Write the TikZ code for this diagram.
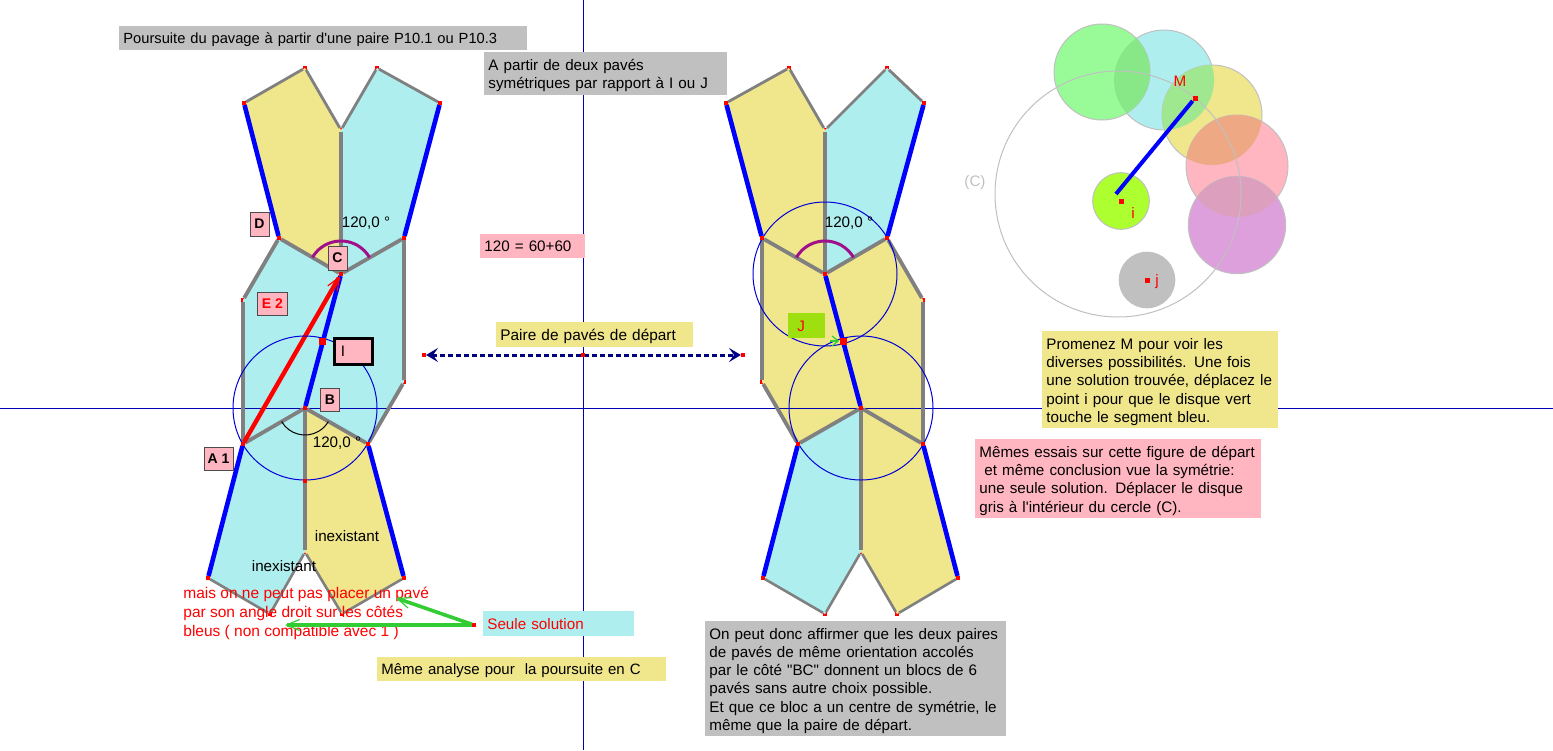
\documentclass[tikz,border=0pt]{standalone}
\usepackage{fontspec}
\setmainfont[Ligatures=TeXOff]{Liberation Sans}
\usetikzlibrary{positioning, shapes, calc, arrows.meta}

\definecolor{paveCyan}{RGB}{175,238,238}
\definecolor{paveKhaki}{RGB}{240,230,140}
\definecolor{panelGray}{RGB}{192,192,192}
\definecolor{panelPink}{RGB}{255,182,193}
\definecolor{paleGreen}{RGB}{152,251,152}
\definecolor{lineGray}{RGB}{128,128,128}
\definecolor{discPlum}{RGB}{221,160,221}
\definecolor{limeJ}{RGB}{158,224,15}
\definecolor{limeDisc}{RGB}{173,255,47}
\definecolor{arrowGreen}{RGB}{50,205,50}
\definecolor{arcPurple}{RGB}{160,16,138}

\begin{document}
\begin{tikzpicture}[x=0.5pt, y=-0.5pt,
                    font=\fontsize{7.6}{9.1}\selectfont,
                    pt/.style={rectangle, fill=red, inner sep=0pt, minimum size=1.6pt},
                    bigpt/.style={rectangle, fill=red, inner sep=0pt, minimum size=3.5pt},
                    panel/.style={anchor=north west, inner xsep=2pt, inner ysep=0pt, align=left},
                    lift/.style={execute at begin node={\rule{0pt}{#1}}},
                    tag/.style={rectangle, draw=black!70, line width=0.5pt, fill=panelPink, inner sep=0pt, font=\fontsize{7}{8}\selectfont\bfseries},
                    side/.style={draw=blue, line width=2.3pt},
                    rim/.style={draw=lineGray, line width=2.2pt},
                    seam/.style={draw=lineGray, line width=1.6pt},
                    disc/.style={draw=panelGray, line width=0.5pt},
                    ring/.style={draw=blue!85!black, line width=0.5pt},
                    axis/.style={draw=blue!70!black, line width=0.5pt},
                    barb/.style={-{Straight Barb[length=6.5pt, width=5.5pt, line width=0.6pt]}}]

    \useasboundingbox (0,0) rectangle (1553,750);

    % Nodes, left figure
    \node[pt] (t1) at (244,103) {};
    \node[pt] (t2) at (305,68) {};
    \node[pt] (t3) at (341,130) {};
    \node[pt] (t4) at (377,68) {};
    \node[pt] (t5) at (440,103) {};
    \node[pt] (d) at (279,238) {};
    \node[pt] (c) at (341,274) {};
    \node[pt] (r1) at (404,238) {};
    \node[pt] (r2) at (404,382) {};
    \node[pt] (l1) at (243,300) {};
    \node[pt] (a) at (243,444) {};
    \node[pt] (b) at (305,408) {};
    \node[pt] (e) at (368,444) {};
    \node[pt] (h) at (305,481) {};
    \node[pt] (n) at (305,552) {};
    \node[pt] (s1) at (208,578) {};
    \node[pt] (s2) at (270,614) {};
    \node[pt] (s3) at (342,614) {};
    \node[pt] (s4) at (404,578) {};

    % Nodes, right figure
    \node[pt] (u1) at (726,103) {};
    \node[pt] (u2) at (789,68) {};
    \node[pt] (u3) at (825,130) {};
    \node[pt] (u4) at (887,68) {};
    \node[pt] (u5) at (924,103) {};
    \node[pt] (v1) at (762,238) {};
    \node[pt] (v2) at (825,274) {};
    \node[pt] (v3) at (887,238) {};
    \node[pt] (v4) at (923,300) {};
    \node[pt] (w1) at (762,382) {};
    \node[pt] (w2) at (798,444) {};
    \node[pt] (w3) at (861,408) {};
    \node[pt] (w4) at (923,444) {};
    \node[pt] (z1) at (763,578) {};
    \node[pt] (z2) at (825,614) {};
    \node[pt] (z3) at (861,552) {};
    \node[pt] (z4) at (897,614) {};
    \node[pt] (z5) at (958,578) {};

    % Fills
    \fill[paveKhaki] (t1.center) -- (t2.center) -- (t3.center) -- (c.center) -- (d.center) -- cycle;
    \fill[paveCyan] (t5.center) -- (t4.center) -- (t3.center) -- (c.center) -- (r1.center) -- cycle;
    \fill[paveCyan] (a.center) -- (l1.center) -- (d.center) -- (c.center) -- (b.center) -- cycle;
    \fill[paveCyan] (c.center) -- (r1.center) -- (r2.center) -- (e.center) -- (b.center) -- cycle;
    \fill[paveCyan] (a.center) -- (b.center) -- (n.center) -- (s2.center) -- (s1.center) -- cycle;
    \fill[paveKhaki] (b.center) -- (e.center) -- (s4.center) -- (s3.center) -- (n.center) -- cycle;
    \fill[paveKhaki] (u1.center) -- (u2.center) -- (u3.center) -- (v2.center) -- (v1.center) -- cycle;
    \fill[paveCyan] (u5.center) -- (u4.center) -- (u3.center) -- (v2.center) -- (v3.center) -- cycle;
    \fill[paveKhaki] (v1.center) -- (v2.center) -- (w3.center) -- (w2.center) -- (w1.center) -- cycle;
    \fill[paveKhaki] (v2.center) -- (v3.center) -- (v4.center) -- (w4.center) -- (w3.center) -- cycle;
    \fill[paveCyan] (w2.center) -- (w3.center) -- (z3.center) -- (z2.center) -- (z1.center) -- cycle;
    \fill[paveKhaki] (w3.center) -- (w4.center) -- (z5.center) -- (z4.center) -- (z3.center) -- cycle;

    % Axes
    \coordinate (west) at (0,408);
    \coordinate (east) at (1553,408);
    \coordinate (north) at (583,0);
    \coordinate (south) at (583,750);
    \draw[axis] (west) -- (east);
    \draw[axis] (north) -- (south);

    % Paths, left figure
    \draw[seam, line width=1.4pt] (t1) -- (t2) -- (t3) -- (t4) -- (t5);
    \draw[seam] (t3) -- (c);
    \draw[seam, line width=1.9pt] (d) -- (c) -- (r1);
    \draw[rim] (a) -- (l1);
    \draw[seam, line width=1.9pt] (l1) -- (d);
    \draw[rim] (r1) -- (r2);
    \draw[seam, line width=1.9pt] (r2) -- (e);
    \draw[seam, line width=1.9pt] (a) -- (b) -- (e);
    \draw[seam] (b) -- (n);
    \draw[seam, line width=1.3pt] (s1) -- (s2) -- (n) -- (s3) -- (s4);
    \draw[side] (t1) -- (d);
    \draw[side] (t5) -- (r1);
    \draw[side] (a) -- (s1);
    \draw[side] (e) -- (s4);
    \draw[side] (b) -- (c);
    \draw[draw=red, line width=2.2pt, barb] (a) -- (c);

    % Paths, right figure
    \draw[seam, line width=1.4pt] (u1) -- (u2) -- (u3) -- (u4) -- (u5);
    \draw[seam] (u3) -- (v2);
    \draw[seam, line width=1.9pt] (v1) -- (v2) -- (v3);
    \draw[rim] (v1) -- (w1);
    \draw[seam, line width=1.9pt] (w1) -- (w2);
    \draw[seam, line width=1.9pt] (v3) -- (v4);
    \draw[rim] (v4) -- (w4);
    \draw[seam, line width=1.9pt] (w2) -- (w3) -- (w4);
    \draw[seam] (w3) -- (z3);
    \draw[seam, line width=1.3pt] (z1) -- (z2) -- (z3) -- (z4) -- (z5);
    \draw[side] (u1) -- (v1);
    \draw[side] (u5) -- (v3);
    \draw[side] (w2) -- (z1);
    \draw[side] (w4) -- (z5);
    \draw[side] (v2) -- (w3);

    % Circles and angles
    \draw[ring] (b.center) circle[radius=72];
    \draw[ring] (v2.center) circle[radius=72];
    \draw[ring] (w3.center) circle[radius=72];
    \draw[draw=arcPurple, line width=1.5pt] ($(c.center)+(-28.6,-16.5)$) arc[start angle=210, end angle=330, radius=33];
    \draw[draw=arcPurple, line width=1.5pt] ($(v2.center)+(-28.6,-16.5)$) arc[start angle=210, end angle=330, radius=33];
    \draw[draw=black, line width=0.5pt] ($(b.center)+(-23.4,13.5)$) arc[start angle=150, end angle=30, radius=27];

    % Red points on top
    \node[bigpt] (i) at (322,341) {};
    \node[bigpt] (j) at (843,341) {};
    \node[pt] at (c) {};
    \node[pt] at (a) {};
    \node[pt] at (b) {};
    \node[pt] at (e) {};
    \node[pt] at (h) {};
    \node[pt] at (v1) {};
    \node[pt] at (v2) {};
    \node[pt] at (v3) {};
    \node[pt] at (w2) {};
    \node[pt] at (w3) {};
    \node[pt] at (w4) {};
    \node[pt] at (t1) {};
    \node[pt] at (t5) {};
    \node[pt] at (s1) {};
    \node[pt] at (s4) {};
    \node[pt] at (d) {};
    \node[pt] at (r1) {};
    \node[pt] at (u1) {};
    \node[pt] at (u5) {};
    \node[pt] at (z1) {};
    \node[pt] at (z5) {};

    % Labels, left figure
    \node[panel, lift=6.5pt, fill=panelGray, minimum height=12pt, text width=200pt, font=\fontsize{7.35}{9.1}\selectfont] (poursuite) at (119,26) {Poursuite du pavage à partir d'une paire P10.1 ou P10.3};
    \node[tag, minimum width=9.5pt, minimum height=12pt] (tagD) at (259.5,224) {D};
    \node[tag, minimum width=9.5pt, minimum height=12pt] (tagC) at (337.5,258) {C};
    \node[tag, minimum width=9.5pt, minimum height=11.5pt] (tagB) at (330,400) {B};
    \node[tag, minimum width=14.5pt, minimum height=11.5pt] (tagA) at (218.5,458.5) {A 1};
    \node[tag, minimum width=15pt, minimum height=11.5pt, text=red] (tagE) at (272.5,304) {E 2};
    \node[tag, draw=black, line width=1.5pt, minimum width=19pt, minimum height=13pt, align=left, font=\fontsize{7.6}{9}\selectfont] (tagI) at (353,351) {\hspace*{-10pt}I};
    \node (angC) at (366,223) {120,0 °};
    \node (angB) at (337,443) {120,0 °};
    \node (angV) at (849,223) {120,0 °};
    \node (inex1) at (347,536) {inexistant};
    \node (inex2) at (284,566) {inexistant};
    \node[anchor=north west, inner sep=0pt, text=red, align=left, font=\fontsize{7.75}{9.4}\selectfont] (mais) at (183,587) {mais on ne peut pas placer un pavé\\par son angle droit sur les côtés\\bleus ( non compatible avec 1 )};

    % Green arrows
    \node[panel, fill=paveCyan, text=red, minimum height=12.5pt, text width=71.5pt] (seule) at (483,611) {Seule solution};
    \node[pt] (o) at (474,625) {};
    \coordinate (g1) at (396,598);
    \coordinate (g2) at (285,625);
    \coordinate (g3) at (830,341);
    \draw[draw=arrowGreen, line width=1.8pt, barb] (o) -- (g1);
    \draw[draw=arrowGreen, line width=1.8pt, barb] (o) -- (g2);

    % Labels, middle
    \node[panel, lift=7.5pt, fill=panelGray, minimum height=21.5pt, text width=117.5pt] (apartir) at (484,52) {A partir de deux pavés\\symétriques par rapport à I ou J};
    \node[panel, fill=panelPink, minimum height=12pt, text width=48.5pt] (somme) at (480,234) {120 = 60+60};
    \node[panel, lift=7.5pt, fill=paveKhaki, minimum height=12.5pt, text width=94.5pt, font=\fontsize{7.7}{9.1}\selectfont] (paire) at (496,322) {Paire de pavés de départ};
    \node[panel, lift=6.5pt, fill=paveKhaki, minimum height=12pt, text width=140.5pt, font=\fontsize{7.5}{9.1}\selectfont] (analyse) at (377,657) {Même analyse pour\ \ la poursuite en C};
    \node[panel, lift=7.5pt, fill=panelGray, minimum height=57.5pt, text width=146.5pt] (bilan) at (705,621) {On peut donc affirmer que les deux paires\\de pavés de même orientation accolés\\par le côté "BC" donnent un blocs de 6\\pavés sans autre choix possible.\\Et que ce bloc a un centre de symétrie, le\\même que la paire de départ.};

    % Dashed double arrow
    \node[pt] (p1) at (424,355) {};
    \node[pt] (p2) at (743,355) {};
    \node[pt] (p3) at (583,355) {};
    \draw[draw=blue!50!black, line width=1.5pt, dash pattern=on 2.5pt off 1.5pt, {Stealth[length=6pt, width=7pt, inset=2.5pt]}-{Stealth[length=6pt, width=7pt, inset=2.5pt]}] (p1) -- (p2);
    \node[pt] at (p3) {};

    % Labels, right figure
    \node[panel, fill=limeJ, text=red, minimum height=12.5pt, text width=14.5pt] (tagJ) at (788,313) {\hspace*{2.5pt}J};
    \draw[draw=arrowGreen, line width=0.6pt, -{Straight Barb[length=3pt, width=5pt]}] (g3) -- (j);
    \node[bigpt] at (j) {};

    % Discs
    \fill[paveCyan] (1164,80) circle[radius=50];
    \draw[disc] (1164,80) circle[radius=50];
    \fill[paleGreen] (1102,72) circle[radius=48];
    \draw[disc] (1102,72) circle[radius=48];
    \fill[paveKhaki] (1212,115) circle[radius=50];
    \draw[disc] (1212,115) circle[radius=50];
    \fill[panelPink] (1237,166) circle[radius=51];
    \draw[disc] (1237,166) circle[radius=51];
    \fill[discPlum] (1237,225) circle[radius=48.7];
    \draw[disc] (1237,225) circle[radius=48.7];
    \begin{scope}
        \clip (1164,80) circle[radius=50];
        \fill[fill={rgb,255:red,136;green,232;blue,136}] (1102,72) circle[radius=48];
        \fill[fill={rgb,255:red,160;green,232;blue,144}] (1212,115) circle[radius=50];
    \end{scope}
    \begin{scope}
        \clip (1212,115) circle[radius=50];
        \fill[fill={rgb,255:red,238;green,168;blue,132}] (1237,166) circle[radius=51];
    \end{scope}
    \begin{scope}
        \clip (1237,166) circle[radius=51];
        \fill[fill={rgb,255:red,220;green,160;blue,190}] (1237,225) circle[radius=48.7];
    \end{scope}
    \fill[limeDisc] (1121,201) circle[radius=28.3];
    \draw[disc] (1121,201) circle[radius=28.3];
    \fill[panelGray] (1147,280) circle[radius=28.3];
    \draw[disc] (1118,194) circle[radius=123];
    \node[pt, minimum size=2.5pt] (mi) at (1121,201) {};
    \node[pt, minimum size=2.5pt] (mj) at (1147,280) {};
    \node[pt, minimum size=2.5pt] (m) at (1195,98) {};
    \coordinate (foot) at (1116,194);
    \draw[side, line width=2pt] (m) -- (foot);
    \node[text=red] (labM) at (1180,81) {M};
    \node[text=red] (labi) at (1133,213) {i};
    \node[text=red] (labj) at (1157,282) {j};
    \node[text=panelGray] (labC) at (975,183) {(C)};

    % Notes
    \node[panel, lift=7.5pt, fill=paveKhaki, minimum height=48.5pt, text width=114pt] (promenez) at (1042,331) {Promenez M pour voir les\\diverses possibilités. Une fois\\une solution trouvée, déplacez le\\point i pour que le disque vert\\touche le segment bleu.};
    \node[panel, lift=7.5pt, fill=panelPink, minimum height=39.5pt, text width=139pt] (essais) at (975,439) {Mêmes essais sur cette figure de départ\\\ et même conclusion vue la symétrie:\\une seule solution. Déplacer le disque\\gris à l'intérieur du cercle (C).};

\end{tikzpicture}
\end{document}
